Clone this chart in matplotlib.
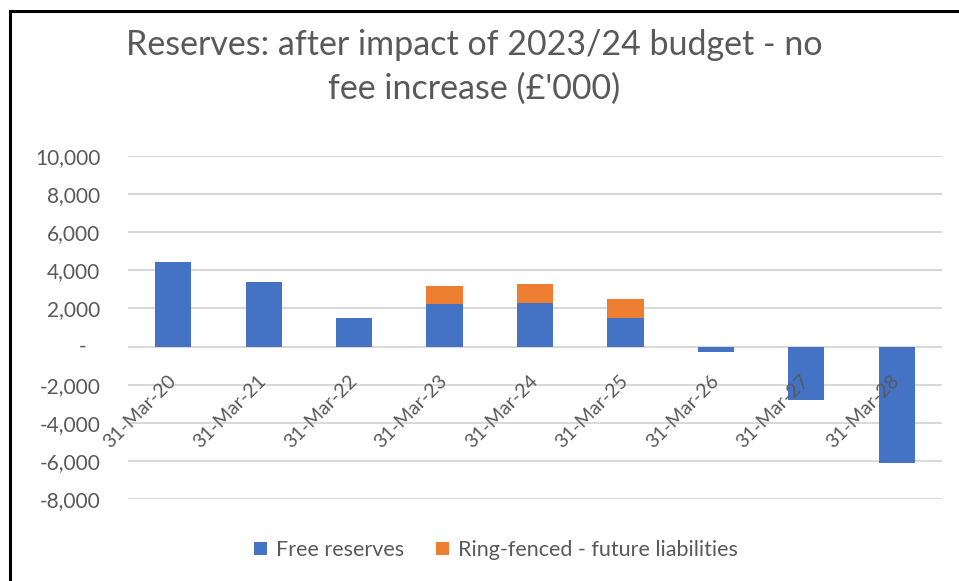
import matplotlib
matplotlib.use("Agg")
import matplotlib.pyplot as plt
from matplotlib.lines import Line2D
import numpy as np

# data (£'000)
dates = ["31-Mar-20", "31-Mar-21", "31-Mar-22", "31-Mar-23", "31-Mar-24",
         "31-Mar-25", "31-Mar-26", "31-Mar-27", "31-Mar-28"]
free_reserves = [4450, 3400, 1500, 2250, 2300, 1500, -300, -2800, -6100]
ring_fenced = [0, 0, 0, 950, 1000, 1000, 0, 0, 0]
yticks = [-8000, -6000, -4000, -2000, 0, 2000, 4000, 6000, 8000, 10000]

blue = "#4472C4"
orange = "#ED7D31"
grey_text = "#595959"
grid_col = "#D9D9D9"

plt.rcParams["font.family"] = ["Lato", "DejaVu Sans"]

W, H = 959, 581
fig = plt.figure(figsize=(W / 100, H / 100), dpi=100)
ax = fig.add_axes([128 / W, 1 - 499 / H, (942 - 128) / W, (499 - 156) / H])

x = np.arange(len(dates))
# gridlines drawn below bars, tick labels stay above them
ax.hlines(yticks, -0.5, len(dates) - 0.5, color=grid_col, linewidth=1.5, zorder=0)
ax.bar(x, free_reserves, width=0.4, color=blue, label="Free reserves", zorder=1)
ax.bar(x, ring_fenced, width=0.4, bottom=free_reserves, color=orange,
       label="Ring-fenced - future liabilities", zorder=1)

ax.set_xlim(-0.5, len(dates) - 0.5)
ax.set_ylim(-8000, 10000)
ax.set_yticks(yticks)
ax.set_yticklabels([f"{v:,}" if v != 0 else "" for v in yticks])
for s in ax.spines.values():
    s.set_visible(False)
ax.spines["bottom"].set_position(("data", 0))
ax.tick_params(axis="y", length=0, pad=20, labelsize=15, labelcolor=grey_text)
ax.set_xticks(x)
ax.set_xticklabels(dates, rotation=45, ha="right", va="center", rotation_mode="anchor")
ax.tick_params(axis="x", length=0, pad=23, labelsize=14, labelcolor=grey_text)

# zero label in accounting style
ax.annotate("-", xy=(0, 0), xycoords=("axes fraction", "data"), xytext=(-30, 0),
            textcoords="offset points", ha="right", va="center",
            fontsize=15, color=grey_text)

fig.text(474 / W, 1 - 45 / H, "Reserves: after impact of 2023/24 budget - no",
         ha="center", va="center", fontsize=24.5, color=grey_text)
fig.text(474 / W, 1 - 89 / H, "fee increase (£'000)",
         ha="center", va="center", fontsize=24.5, color=grey_text)

fig.legend(loc="center", bbox_to_anchor=(496 / W, 1 - 550 / H), ncol=2, frameon=False,
           handlelength=0.6, handleheight=0.6, handletextpad=0.4, columnspacing=1.5,
           fontsize=15.5, labelcolor=grey_text)

# screenshot frame on top and left
fig.add_artist(Line2D([10 / W, 10 / W], [0, 1 - 11 / H], transform=fig.transFigure,
                      color="black", linewidth=2.2))
fig.add_artist(Line2D([10 / W, 1], [1 - 11 / H, 1 - 11 / H], transform=fig.transFigure,
                      color="black", linewidth=2.2))

fig.savefig("out.png", dpi=100)
